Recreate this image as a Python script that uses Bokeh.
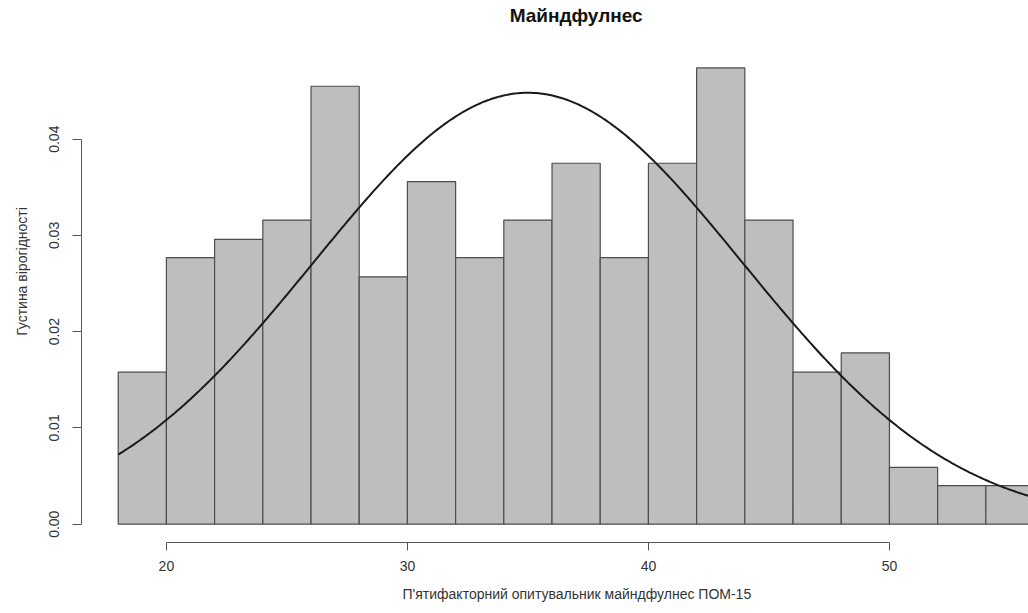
import numpy as np
from bokeh.plotting import figure
from bokeh.models import Range1d, FixedTicker, PrintfTickFormatter, Title, Label
from bokeh.embed import file_html
from bokeh.resources import INLINE

# ---- data ----
bin_edges = [18, 20, 22, 24, 26, 28, 30, 32, 34, 36, 38, 40, 42, 44, 46, 48, 50, 52, 54, 56]
density = [0.0158, 0.0277, 0.0296, 0.0316, 0.0455, 0.0257, 0.0356, 0.0277, 0.0316,
           0.0375, 0.0277, 0.0375, 0.0474, 0.0316, 0.0158, 0.0178, 0.0059, 0.0040, 0.0040]
norm_mean = 35.0
norm_sd = 8.9
x_ticks = [20, 30, 40, 50]
y_ticks = [0.00, 0.01, 0.02, 0.03, 0.04]

title_text = "Майндфулнес"
x_label = "П'ятифакторний опитувальник майндфулнес ПОМ-15"
y_label = "Густина вірогідності"

FONT = "Liberation Sans"

p = figure(width=1028, height=613, output_backend="svg", toolbar_location=None,
           x_range=Range1d(16.477, 55.77), y_range=Range1d(-0.0019, 0.05441),
           min_border_left=81, min_border_top=0, min_border_right=0, min_border_bottom=71)
p.outline_line_color = None
p.grid.visible = False
p.title.visible = False

p.quad(left=bin_edges[:-1], right=bin_edges[1:], bottom=0, top=density,
       fill_color="#BEBEBE", line_color="#4D4D4D", line_width=1.2)

xs = np.linspace(bin_edges[0], bin_edges[-1], 500)
ys = np.exp(-0.5 * ((xs - norm_mean) / norm_sd) ** 2) / (norm_sd * np.sqrt(2 * np.pi))
p.line(xs, ys, line_color="#1a1a1a", line_width=2)

for ax in (p.xaxis[0], p.yaxis[0]):
    ax.axis_line_color = "#555555"
    ax.major_tick_line_color = "#555555"
    ax.minor_tick_line_color = None
    ax.major_tick_in = 0
    ax.major_label_text_font = FONT
    ax.major_label_text_font_size = "14px"
    ax.major_label_text_color = "#333333"

p.xaxis.ticker = FixedTicker(ticks=x_ticks)
p.xaxis.bounds = (x_ticks[0], x_ticks[-1])
p.xaxis.major_tick_out = 8
p.xaxis.major_label_standoff = 10

p.yaxis.ticker = FixedTicker(ticks=y_ticks)
p.yaxis.bounds = (y_ticks[0], y_ticks[-1])
p.yaxis.formatter = PrintfTickFormatter(format="%.2f")
p.yaxis.major_tick_out = 9
p.yaxis.major_label_orientation = "vertical"
p.yaxis.major_label_standoff = 13
p.yaxis.axis_label = y_label
p.yaxis.axis_label_text_font = FONT
p.yaxis.axis_label_text_font_style = "normal"
p.yaxis.axis_label_text_font_size = "14px"
p.yaxis.axis_label_text_color = "#333333"
p.yaxis.axis_label_standoff = 17

# main title, placed in the empty band above the bars (centred on R's plot region)
p.add_layout(Label(x=37, y=0.05286, text=title_text, text_align="center",
                   text_baseline="middle", text_font=FONT, text_font_style="bold",
                   text_font_size="19px", text_color="#111111"))

xt = Title(text=x_label, align="left", offset=321, text_font=FONT,
           text_font_style="normal", text_font_size="14px", text_color="#333333",
           standoff=20)
p.add_layout(xt, "below")

open("out.html", "w").write(file_html(p, INLINE))
